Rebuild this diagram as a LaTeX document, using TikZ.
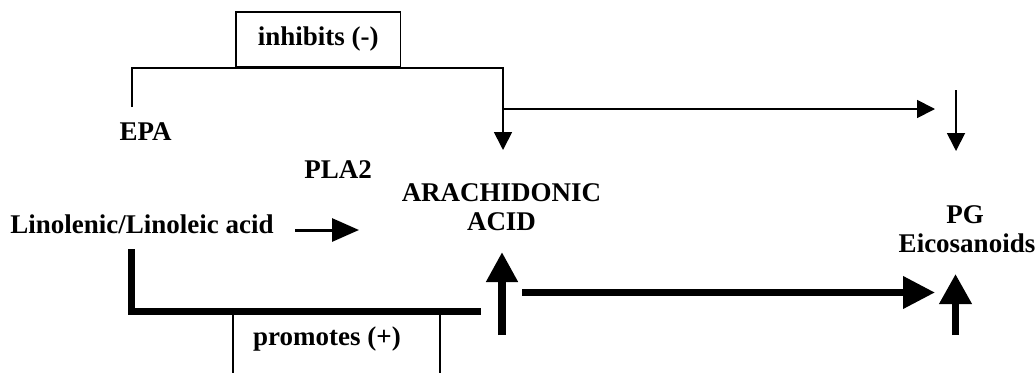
\documentclass[tikz,border=0pt]{standalone}
\usepackage{fontspec}
\setmainfont{Liberation Serif}
\usetikzlibrary{arrows.meta}
\begin{document}
\begin{tikzpicture}[x=1pt,y=-1pt,
  lbl/.style={font=\fontsize{27}{29}\selectfont\bfseries, inner sep=0pt, anchor=base},
  thinline/.style={line width=1.8pt},
  thinarr/.style={thinline,-{Triangle[length=18pt,width=18pt]}},
  thickarr/.style={line width=7.5pt,-{Triangle[length=30pt,width=31pt]}},
  boxed/.style={draw, line width=1.8pt, inner sep=0pt}
]
\path[use as bounding box, fill=white] (0,0) rectangle (1035,372);

% labels
\node[lbl] (epa)  at (145.5,140) {EPA};
\node[lbl] (pla)  at (338,178)   {PLA2};
\node[lbl] (lin)  at (142,233)   {Linolenic/Linoleic acid};
\node[lbl] (ara)  at (501.5,201) {ARACHIDONIC};
\node[lbl] (acid) at (501.5,230) {ACID};
\node[lbl] (pg)   at (965,223)   {PG};
\node[lbl] (eic)  at (967,252)   {Eicosanoids};

% inhibition box and bracket
\node[boxed, minimum width=164.5pt, minimum height=55pt,
      font=\fontsize{27}{29}\selectfont\bfseries] (inh) at (318.25,39.5) {inhibits (-)};
\coordinate (epaTop) at (132,107);
\coordinate (araIn)  at (503,150);
\coordinate (split)  at (503,109);
\coordinate (pgIn)   at (935,109);
\coordinate (pgTop)  at (956,90);
\coordinate (pgDown) at (956,151);
\draw[thinarr] (epaTop) -- (epaTop |- inh.south) -| (araIn);
\draw[thinarr] (split) -- (pgIn);
\draw[thinarr] (pgTop) -- (pgDown);

% conversion by PLA2
\coordinate (linOut) at (295,230);
\coordinate (plaTip) at (359,230);
\draw[line width=3pt,-{Triangle[length=27pt,width=23pt]}] (linOut) -- (plaTip);

% promotion box and bracket
\begin{scope}
\clip (0,0) rectangle (1035,372);
\node[boxed, minimum width=207pt, minimum height=80pt, anchor=north] (pro) at (336.5,311) {};
\end{scope}
\node[lbl] (protxt) at (327,345) {promotes (+)};
\coordinate (linBot) at (131.5,249);
\coordinate (proEnd) at (481,311.5);
\draw[line width=6.5pt] (linBot) |- (proEnd);

% thick promoting arrows
\coordinate (araBase) at (502,335);
\coordinate (araTip)  at (502,252);
\coordinate (pgBase)  at (955.5,335);
\coordinate (pgTip)   at (955.5,274);
\coordinate (hStart)  at (522,292.5);
\coordinate (hEnd)    at (935,292.5);
\draw[line width=8pt,-{Triangle[length=30pt,width=30pt]}] (araBase) -- (araTip);
\draw[line width=7pt,-{Triangle[length=30pt,width=31pt]}] (pgBase) -- (pgTip);
\draw[line width=7pt,-{Triangle[length=32pt,width=31pt]}] (hStart) -- (hEnd);
\end{tikzpicture}
\end{document}
